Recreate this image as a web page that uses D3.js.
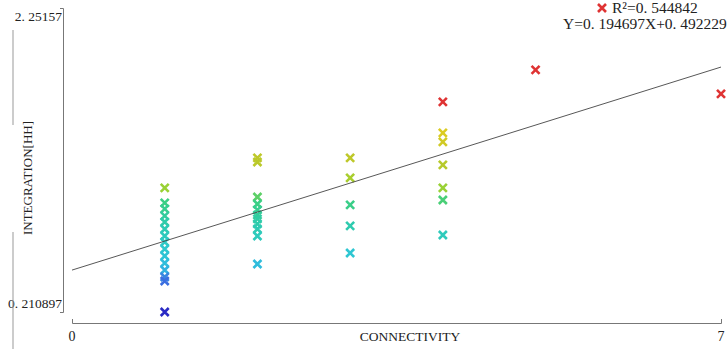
<!DOCTYPE html>
<meta charset="utf-8">
<style>
body { margin: 0; background: #fff; }
svg { display: block; }
text { font-family: "Liberation Serif", "DejaVu Serif", serif; fill: #222; }
.axis path, .axis line { stroke: #777; }
</style>
<svg width="727" height="349"></svg>
<script src="https://cdn.jsdelivr.net/npm/d3@7"></script>
<script>

// points: connectivity (x) and integration[HH] (y)
var connectivity = [1, 1, 1, 1, 1, 1, 1, 1, 1, 1, 1, 1, 1, 1, 1,
                    2, 2, 2, 2, 2, 2, 2, 2, 2, 2, 2,
                    3, 3, 3, 3, 3,
                    4, 4, 4, 4, 4, 4, 4,
                    5, 7];
var integration = [1.044, 0.943, 0.903, 0.856, 0.815, 0.768, 0.721, 0.681, 0.634, 0.587, 0.540, 0.493, 0.446, 0.419, 0.2109,
                   1.245, 1.218, 0.983, 0.936, 0.896, 0.862, 0.836, 0.802, 0.768, 0.721, 0.533,
                   1.245, 1.111, 0.930, 0.789, 0.607,
                   1.621, 1.413, 1.353, 1.198, 1.044, 0.963, 0.728,
                   1.836, 1.675];

var xTicks = [0, 7],
    yTicks = [0.210897, 2.25157],
    yTickLabels = ["0. 210897", "2. 25157"];

var slope = 0.194697, intercept = 0.492229;
var legendLines = ["R\u00b2=0. 544842", "Y=0. 194697X+0. 492229"];

var svg = d3.select("svg"),
    margin = {top: 8, right: 6, bottom: 37, left: 72},
    width = +svg.attr("width") - margin.left - margin.right,
    height = +svg.attr("height") - margin.top - margin.bottom;

var x = d3.scaleLinear().domain([0, 7]).range([0, width]),
    y = d3.scaleLinear().domain([yTicks[0], yTicks[1]]).range([height, 0]);

var color = d3.scaleLinear()
    .domain([0.21, 0.42, 0.5, 0.62, 0.8, 0.95, 1.05, 1.25, 1.42, 1.6])
    .range(["#2a2ac4", "#3a6ee0", "#30b8e0", "#2ec8d0", "#2ecbad", "#3ccf82", "#9fd130", "#bfc829", "#dccb22", "#df3333"])
    .clamp(true);

var g = svg.append("g")
    .attr("transform", "translate(" + margin.left + "," + margin.top + ")");

// faint frame line at far left, broken by the title
svg.append("line").attr("x1", 13).attr("x2", 13).attr("y1", 30).attr("y2", 125).attr("stroke", "#999");
svg.append("line").attr("x1", 13).attr("x2", 13).attr("y1", 232).attr("y2", 349).attr("stroke", "#999");

// y axis sits a little left of x = 0
g.append("g")
    .attr("class", "axis axis--y")
    .attr("transform", "translate(-9,0)")
    .call(d3.axisLeft(y).tickValues(yTicks).tickSize(3).tickFormat(""));

g.selectAll(".ylab")
  .data(yTicks)
  .enter().append("text")
    .attr("class", "ylab")
    .attr("x", -10)
    .attr("y", function(d, i) { return y(d); })
    .attr("dy", function(d, i) { return i === 0 ? "-0.3em" : "0.95em"; })
    .attr("text-anchor", "end")
    .style("font-size", "13.5px")
    .text(function(d, i) { return yTickLabels[i]; });

g.append("text")
    .attr("transform", "rotate(-90)")
    .attr("x", -(178 - margin.top))
    .attr("y", 27 - margin.left)
    .attr("dy", "0.35em")
    .attr("text-anchor", "middle")
    .style("font-size", "13px")
    .text("INTEGRATION[HH]");

// x axis
g.append("g")
    .attr("class", "axis axis--x")
    .attr("transform", "translate(0," + (height + 11) + ")")
    .call(d3.axisBottom(x).tickValues(xTicks).tickSize(-4).tickFormat(""));

g.selectAll(".xlab")
  .data(xTicks)
  .enter().append("text")
    .attr("class", "xlab")
    .attr("x", function(d) { return x(d); })
    .attr("y", height + 29)
    .attr("text-anchor", "middle")
    .style("font-size", "14px")
    .text(function(d) { return d; });

g.append("text")
    .attr("x", 410 - margin.left)
    .attr("y", height + 29)
    .attr("text-anchor", "middle")
    .style("font-size", "13.5px")
    .text("CONNECTIVITY");

// crosses
var s = 4;
g.selectAll(".pt")
  .data(integration)
  .enter().append("path")
    .attr("class", "pt")
    .attr("transform", function(d, i) { return "translate(" + x(connectivity[i]) + "," + y(d) + ")"; })
    .attr("d", "M" + -s + "," + -s + "L" + s + "," + s + "M" + -s + "," + s + "L" + s + "," + -s)
    .attr("fill", "none")
    .attr("stroke", function(d) { return color(d); })
    .attr("stroke-width", 2.6);

// regression line
g.append("line")
    .attr("x1", x(0)).attr("y1", y(intercept))
    .attr("x2", x(7)).attr("y2", y(slope * 7 + intercept))
    .attr("stroke", "#444")
    .attr("stroke-width", 0.9);

// legend
var lg = svg.append("g");
lg.append("path")
    .attr("transform", "translate(602,8)")
    .attr("d", "M-4,-4L4,4M-4,4L4,-4")
    .attr("stroke", "#df3333")
    .attr("stroke-width", 2.6);
lg.append("text")
    .attr("x", 612).attr("y", 13)
    .style("font-size", "15.5px")
    .text(legendLines[0]);
lg.append("text")
    .attr("x", 563).attr("y", 29)
    .style("font-size", "15.5px")
    .text(legendLines[1]);

</script>
